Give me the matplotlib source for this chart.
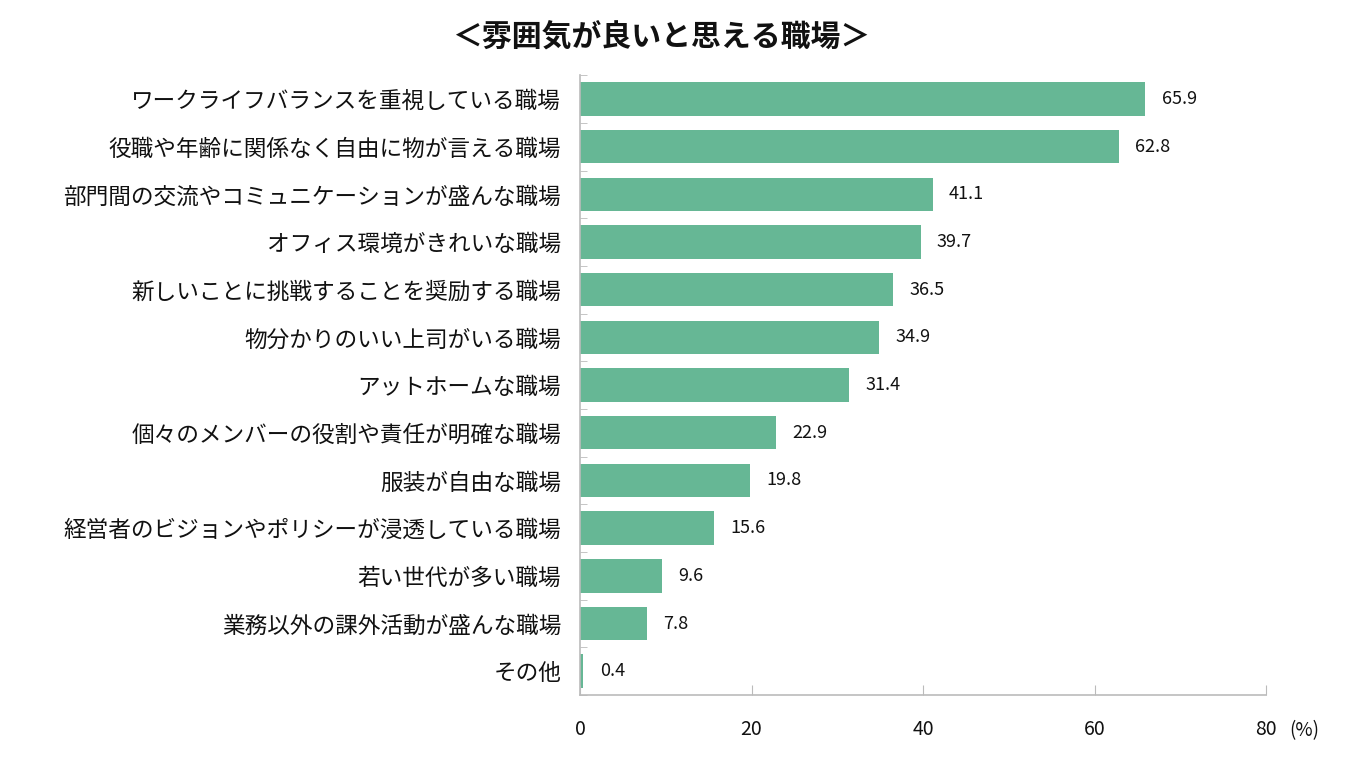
import matplotlib
matplotlib.use("Agg")
import matplotlib.pyplot as plt
import numpy as np

plt.rcParams['font.family'] = ['Noto Sans CJK JP', 'DejaVu Sans']

labels = [
    "ワークライフバランスを重視している職場",
    "役職や年齢に関係なく自由に物が言える職場",
    "部門間の交流やコミュニケーションが盛んな職場",
    "オフィス環境がきれいな職場",
    "新しいことに挑戦することを奨励する職場",
    "物分かりのいい上司がいる職場",
    "アットホームな職場",
    "個々のメンバーの役割や責任が明確な職場",
    "服装が自由な職場",
    "経営者のビジョンやポリシーが浸透している職場",
    "若い世代が多い職場",
    "業務以外の課外活動が盛んな職場",
    "その他",
]
values = [65.9, 62.8, 41.1, 39.7, 36.5, 34.9, 31.4, 22.9, 19.8, 15.6, 9.6, 7.8, 0.4]
xticks = [0, 20, 40, 60, 80]

fig = plt.figure(figsize=(13.6, 7.6), dpi=100)
ax = fig.add_axes([0.4265, 0.0855, 0.5045, 0.8155])

y = np.arange(len(labels))
ax.barh(y, values, height=0.7, color="#66b795")
ax.set_ylim(len(labels) - 0.5, -0.5)
ax.set_xlim(0, 80)

for yi, v in zip(y, values):
    ax.text(v + 1.9, yi, f"{v:.1f}", va="center", ha="left", fontsize=13,
            color="#111111")

ax.set_yticks(y)
ax.set_yticklabels(labels, fontsize=16.3, color="#111111")
ax.tick_params(axis="y", length=0, pad=13.5)
# minor ticks at category boundaries
ax.set_yticks(np.arange(-0.5, len(labels), 1), minor=True)
ax.tick_params(axis="y", which="minor", direction="in", length=5, color="#bbbbbb")

ax.set_xticks(xticks)
ax.set_xticklabels([str(t) for t in xticks], fontsize=14, color="#111111")
ax.tick_params(axis="x", direction="in", length=7, color="#bbbbbb", pad=17)

for side in ["top", "right"]:
    ax.spines[side].set_visible(False)
for side in ["left", "bottom"]:
    ax.spines[side].set_color("#bbbbbb")
    ax.spines[side].set_linewidth(1.2)

fig.text(0.948, 0.038, "(%)", fontsize=13.5, ha="left", va="center", color="#111111")
fig.text(0.487, 0.95, "＜雰囲気が良いと思える職場＞", fontsize=21.5, fontweight="bold",
         ha="center", va="center", color="#111111")

fig.savefig("out.png", dpi=100)
